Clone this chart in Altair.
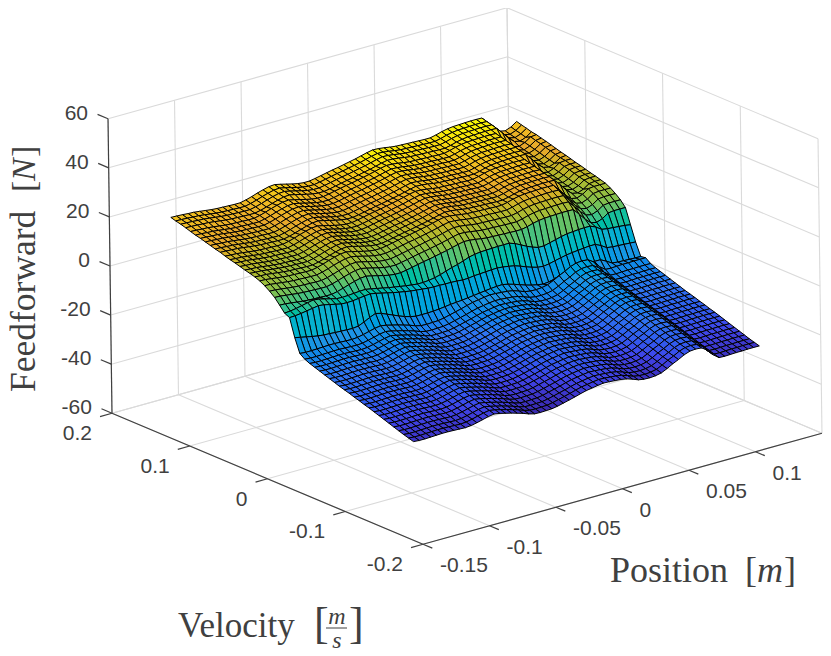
import altair as alt
import pandas as pd

alt.data_transformers.disable_max_rows()

# axis ticks
z_ticks = [60, 40, 20, 0, -20, -40, -60]
v_ticks = [0.2, 0.1, 0, -0.1, -0.2]
p_ticks = [-0.15, -0.1, -0.05, 0, 0.05, 0.1]
p_grid = [-0.15, -0.1, -0.05, 0, 0.05, 0.1, 0.15]
p_lim = [-0.15, 0.15]
v_lim = [-0.2, 0.2]
z_lim = [-60, 60]

# mesh lines of the surface
position = [
    -0.1300, -0.1257, -0.1213, -0.1170, -0.1127, -0.1083, -0.1040, -0.0997, -0.0953, -0.0910,
    -0.0867, -0.0823, -0.0780, -0.0737, -0.0693, -0.0650, -0.0607, -0.0563, -0.0520, -0.0477,
    -0.0433, -0.0390, -0.0347, -0.0303, -0.0260, -0.0217, -0.0173, -0.0130, -0.0087, -0.0043,
    0.0000, 0.0043, 0.0087, 0.0130, 0.0173, 0.0217, 0.0260, 0.0303, 0.0347, 0.0390,
    0.0433, 0.0477, 0.0520, 0.0563, 0.0607, 0.0650, 0.0693, 0.0737, 0.0780, 0.0823,
    0.0867, 0.0910, 0.0953, 0.0997, 0.1040, 0.1083, 0.1127, 0.1170, 0.1213, 0.1257,
    0.1300,
]
velocity = [
    -0.1550, -0.1487, -0.1423, -0.1360, -0.1297, -0.1234, -0.1170, -0.1107, -0.1044, -0.0981,
    -0.0917, -0.0854, -0.0791, -0.0727, -0.0664, -0.0601, -0.0538, -0.0474, -0.0411, -0.0348,
    -0.0285, -0.0221, -0.0158, -0.0095, -0.0032, 0.0032, 0.0095, 0.0158, 0.0221, 0.0285,
    0.0348, 0.0411, 0.0474, 0.0538, 0.0601, 0.0664, 0.0727, 0.0791, 0.0854, 0.0917,
    0.0981, 0.1044, 0.1107, 0.1170, 0.1234, 0.1297, 0.1360, 0.1423, 0.1487, 0.1550,
]

# force level of each velocity row (rows 24 to 26 are the friction step, see below)
row_level = [
    -27.0, -26.4, -25.8, -25.1, -24.4, -23.7, -23.0, -22.3, -21.6, -20.9,
    -20.3, -19.6, -19.0, -18.3, -17.7, -17.1, -16.4, -15.7, -15.0, -14.3,
    -13.6, -12.9, -12.0, -10.5, -7.5, 0.0, 4.3, 7.5, 9.8, 11.5,
    12.9, 14.0, 14.6, 15.2, 15.7, 16.3, 16.9, 17.4, 18.0, 18.6,
    19.1, 19.7, 20.3, 20.9, 21.4, 22.0, 22.6, 23.2, 23.7, 24.3,
]
ripple_neg = [
    -0.2, -0.4, -0.4, -0.3, -0.2, -0.1, -0.1, -0.2, -0.3, -0.4,
    -0.2, 0.3, 0.9, 1.5, 1.9, 1.5, 0.9, 0.3, -0.4, -1.1,
    -2.0, -2.6, -2.7, -2.6, -2.5, -2.1, -1.5, -0.9, -0.3, 0.4,
    1.0, 1.4, 1.8, 2.1, 2.0, 1.8, 1.6, 1.2, 0.4, -0.5,
    -0.9, -1.0, -0.8, -0.3, 0.8, 2.1, 3.2, 4.5, 5.3, 5.5,
    5.3, 3.8, 1.2, -0.6, -0.7, -0.6, -0.5, -0.5, -0.4, -0.4,
    -0.4,
]
ripple_pos = [
    -1.5, -1.6, -1.7, -1.9, -2.0, -2.3, -2.6, -2.9, -3.1, -3.2,
    -3.3, -3.4, -3.4, -2.9, -2.2, -1.4, -0.7, -0.1, 0.1, -0.4,
    -1.0, -1.6, -2.1, -2.4, -2.4, -2.0, -1.5, -1.0, -0.5, -0.1,
    0.4, 0.9, 1.4, 2.0, 2.6, 3.1, 3.0, 2.7, 2.3, 2.0,
    1.9, 1.8, 1.7, 1.6, 1.5, 1.5, 2.0, 2.7, 3.2, 3.5,
    3.6, 3.7, 3.8, 3.8, 3.7, 1.2, -1.5, -3.6, -4.1, -3.2,
    -1.6, -1.3, -1.3, -1.3,
]
# ridges drift in position on the positive velocity side (columns per row)
row_skew = [
    0, 0, 0, 0, 0, 0, 0, 0, 0, 0,
    0, 0, 0, 0, 0, 0, 0, 0, 0, 0,
    0, 0, 0, 0, 0, 3, 3, 3, 3, 3,
    3, 3, 2, 2, 2, 2, 2, 2, 2, 1,
    1, 1, 1, 1, 1, 1, 0, 0, 0, 0,
]
# top and bottom line of the friction step, per position column
step_top = [
    3.2, 3.4, 3.8, 4.3, 4.8, 5.3, 5.0, 4.4, 3.8, 3.2,
    3.1, 3.2, 3.4, 3.6, 3.7, 3.3, 2.8, 2.3, 1.8, 1.4,
    1.0, 0.6, 0.3, 0.0, 0.0, 0.2, 0.6, 1.2, 2.0, 2.8,
    3.4, 4.2, 5.1, 5.6, 5.9, 6.0, 6.1, 6.2, 6.2, 6.2,
    5.4, 4.2, 3.0, 2.0, 1.2, 1.2, 1.8, 2.4, 3.0, 3.5,
    3.7, 3.9, 4.0, 4.0, 3.0, 1.4, 1.0, 0.8, 0.6, 0.4,
    0.0,
]
step_bottom = [
    -5.1, -5.6, -6.1, -6.6, -7.0, -7.3, -7.4, -7.6, -7.7, -7.8,
    -7.9, -7.6, -6.6, -5.4, -4.4, -5.0, -6.0, -7.0, -8.0, -8.9,
    -9.6, -10.1, -10.1, -10.1, -10.0, -9.8, -9.5, -9.2, -9.0, -8.8,
    -8.5, -8.2, -7.9, -7.6, -7.3, -7.1, -7.0, -7.5, -8.2, -9.0,
    -9.8, -10.5, -11.0, -11.4, -11.2, -10.6, -10.0, -9.5, -9.1, -8.9,
    -8.6, -8.3, -8.0, -8.0, -9.2, -10.6, -10.9, -11.0, -11.1, -11.2,
    -11.2,
]
# where the middle row of the step sits between those two lines
step_share = [
    0.12, 0.12, 0.12, 0.12, 0.12, 0.12, 0.12, 0.12, 0.12, 0.12,
    0.12, 0.12, 0.12, 0.12, 0.12, 0.12, 0.12, 0.12, 0.12, 0.12,
    0.12, 0.12, 0.12, 0.12, 0.15, 0.18, 0.22, 0.28, 0.34, 0.40,
    0.46, 0.50, 0.52, 0.54, 0.55, 0.55, 0.55, 0.55, 0.55, 0.55,
    0.55, 0.55, 0.55, 0.55, 0.55, 0.55, 0.55, 0.55, 0.55, 0.55,
    0.55, 0.55, 0.55, 0.55, 0.55, 0.55, 0.55, 0.55, 0.55, 0.55,
    0.55,
]

# parula-like colours
color_z = [-29, -24, -16, -9, -2, 4, 9, 14, 18, 23, 27]
color_hex = ["#3a2cb4", "#3f45ea", "#3074f0", "#2094e4", "#12b0d0", "#2cc094",
             "#80c050", "#b8b82c", "#e8a82c", "#f2c41c", "#f8ee08"]


def project(p, v, z):
    # fixed camera of the 3d axes, gives page pixels
    return (465 + 1330 * p - 777.5 * v - 0.033 * z,
            276 - 370 * p - 327.5 * v - 2.454 * z)


def height(i, j):
    if j == 26:
        return step_top[i]
    if j == 24:
        return step_bottom[i]
    if j == 25:
        return step_top[i] + step_share[i] * (step_bottom[i] - step_top[i])
    if j > 26:
        return row_level[j] + ripple_pos[i + row_skew[j]]
    return row_level[j] + ripple_neg[i]


def segment(a, b):
    x, y = project(*a)
    x2, y2 = project(*b)
    return {"x": x, "y": y, "x2": x2, "y2": y2}


x_scale = alt.Scale(domain=[8, 823], range=[0, 815], nice=False, zero=False)
y_scale = alt.Scale(domain=[8, 648], range=[0, 640], nice=False, zero=False)


def segments_chart(rows, color, width):
    return (
        alt.Chart(pd.DataFrame(rows))
        .mark_rule(color=color, strokeWidth=width)
        .encode(
            x=alt.X("x:Q", scale=x_scale, axis=None),
            y=alt.Y("y:Q", scale=y_scale, axis=None),
            x2="x2:Q",
            y2="y2:Q",
        )
    )


# back walls and floor
grid_rows = []
for p in p_grid:
    grid_rows.append(segment((p, v_lim[0], z_lim[0]), (p, v_lim[1], z_lim[0])))
    grid_rows.append(segment((p, v_lim[1], z_lim[0]), (p, v_lim[1], z_lim[1])))
for v in v_ticks:
    grid_rows.append(segment((p_lim[0], v, z_lim[0]), (p_lim[1], v, z_lim[0])))
    grid_rows.append(segment((p_lim[1], v, z_lim[0]), (p_lim[1], v, z_lim[1])))
for z in z_ticks:
    grid_rows.append(segment((p_lim[0], v_lim[1], z), (p_lim[1], v_lim[1], z)))
    grid_rows.append(segment((p_lim[1], v_lim[1], z), (p_lim[1], v_lim[0], z)))

axis_rows = [
    segment((p_lim[0], v_lim[1], z_lim[0]), (p_lim[0], v_lim[1], z_lim[1])),
    segment((p_lim[0], v_lim[1], z_lim[0]), (p_lim[0], v_lim[0], z_lim[0])),
    segment((p_lim[0], v_lim[0], z_lim[0]), (p_lim[1], v_lim[0], z_lim[0])),
]
for z in z_ticks:
    axis_rows.append(segment((p_lim[0], v_lim[1], z), (p_lim[0], v_lim[1] + 0.0135, z)))
for v in v_ticks:
    axis_rows.append(segment((p_lim[0], v, z_lim[0]), (p_lim[0] - 0.009, v, z_lim[0])))
for p in p_ticks:
    axis_rows.append(segment((p, v_lim[0], z_lim[0]), (p, v_lim[0] - 0.012, z_lim[0])))

# surface quads, painted from the back corner to the front one
quad_rows = []
quad_id = 0
for j in range(len(velocity) - 2, -1, -1):
    for i in range(len(position) - 2, -1, -1):
        corners = [(i, j), (i + 1, j), (i + 1, j + 1), (i, j + 1), (i, j)]
        level = sum(height(a, b) for a, b in corners[:4]) / 4
        for k, (a, b) in enumerate(corners):
            x, y = project(position[a], velocity[b], height(a, b))
            quad_rows.append({"quad": quad_id, "k": k, "x": x, "y": y, "level": level})
        quad_id += 1

surface = (
    alt.Chart(pd.DataFrame(quad_rows))
    .mark_line(stroke="#000000", strokeWidth=1.0, strokeJoin="round")
    .encode(
        x=alt.X("x:Q", scale=x_scale, axis=None),
        y=alt.Y("y:Q", scale=y_scale, axis=None),
        detail="quad:N",
        order="k:Q",
        fill=alt.Fill("level:Q", scale=alt.Scale(domain=color_z, range=color_hex), legend=None),
    )
)


def tick_labels(rows, align, dx, dy):
    frame = pd.DataFrame(rows)
    return (
        alt.Chart(frame)
        .mark_text(font="Liberation Sans", fontSize=21, color="#404040", align=align,
                   baseline="middle", dx=dx, dy=dy)
        .encode(
            x=alt.X("x:Q", scale=x_scale, axis=None),
            y=alt.Y("y:Q", scale=y_scale, axis=None),
            text="label:N",
        )
    )


def label_row(p, v, z, label):
    x, y = project(p, v, z)
    return {"x": x, "y": y, "label": label}


z_labels = tick_labels([label_row(p_lim[0], v_lim[1], z, str(z)) for z in z_ticks], "right", -20, -5)
v_labels = tick_labels([label_row(p_lim[0], v, z_lim[0], str(v)) for v in v_ticks], "right", -20, 21)
p_labels = tick_labels([label_row(p, v_lim[0], z_lim[0], str(p)) for p in p_ticks], "left", 17, 22)


def title_text(text, px, py, size=35, style="normal", angle=0, align="left"):
    return (
        alt.Chart(pd.DataFrame({"t": [text]}))
        .mark_text(font="Liberation Serif", fontSize=size, fontStyle=style, color="#404040",
                   align=align, baseline="alphabetic", angle=angle)
        .encode(x=alt.value(px - 8), y=alt.value(py - 8), text="t:N")
    )


titles = [
    title_text("Feedforward", 35, 392, size=35.5, angle=270),
    title_text("[", 35, 192, size=34, angle=270),
    title_text("N", 35, 181, size=34, style="italic", angle=270),
    title_text("]", 35, 157, size=34, angle=270),
    title_text("Position", 610, 582, size=36),
    title_text("[", 745, 582, size=36),
    title_text("m", 757, 582, size=36, style="italic"),
    title_text("]", 784, 582, size=36),
    title_text("Velocity", 178, 637, size=35),
    title_text("[", 314, 638, size=44),
    title_text("m", 337, 624, size=24, style="italic", align="center"),
    title_text("s", 337, 648, size=24, style="italic", align="center"),
    title_text("]", 349, 638, size=44),
]
frac_bar = (
    alt.Chart(pd.DataFrame({"a": [0]}))
    .mark_rule(color="#404040", strokeWidth=1)
    .encode(x=alt.value(326 - 8), x2=alt.value(347 - 8), y=alt.value(628 - 8))
)

chart = alt.layer(
    segments_chart(grid_rows, "#dadada", 1.1),
    segments_chart(axis_rows, "#404040", 1.2),
    surface,
    z_labels,
    v_labels,
    p_labels,
    *titles,
    frac_bar,
).properties(
    width=815,
    height=640,
    padding=0,
    autosize=alt.AutoSizeParams(type="none"),
).configure_view(stroke=None)

chart.save("out.html", embed_options={"renderer": "svg", "actions": False})
